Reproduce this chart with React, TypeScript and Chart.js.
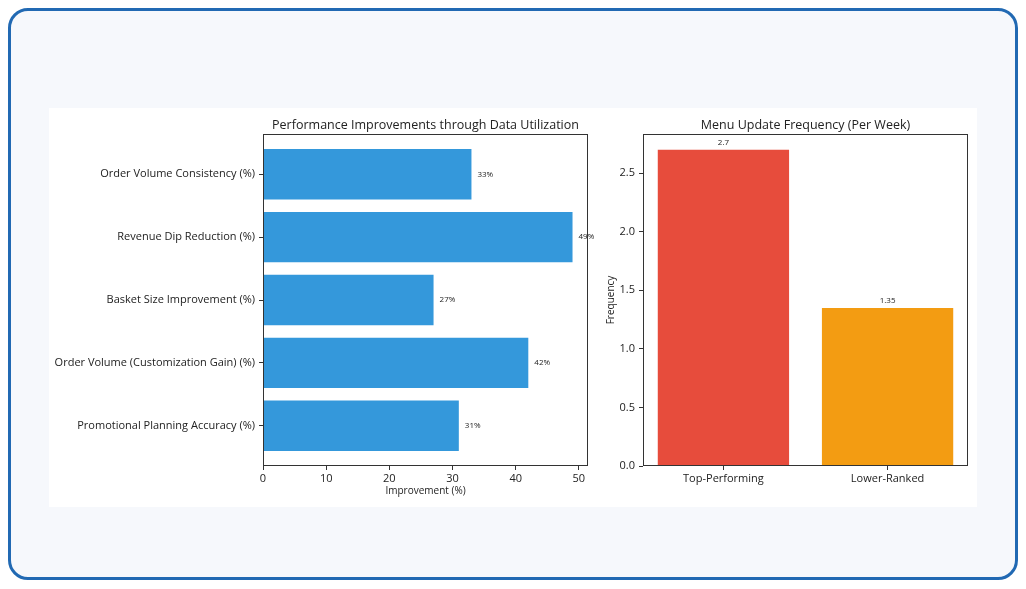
import React, { useEffect, useRef } from "react";
import { Chart, registerables } from "chart.js";

Chart.register(...registerables);

// Performance improvements (horizontal bars)
const improvementLabels: string[] = [
  "Order Volume Consistency (%)",
  "Revenue Dip Reduction (%)",
  "Basket Size Improvement (%)",
  "Order Volume (Customization Gain) (%)",
  "Promotional Planning Accuracy (%)",
];
const improvementValues: number[] = [33, 49, 27, 42, 31];
const improvementTicks: number[] = [0, 10, 20, 30, 40, 50];

// Menu update frequency (vertical bars)
const frequencyLabels: string[] = ["Top-Performing", "Lower-Ranked"];
const frequencyValues: number[] = [2.7, 1.35];
const frequencyColors: string[] = ["#e74c3c", "#f39c12"];
const frequencyTicks: number[] = [0, 0.5, 1.0, 1.5, 2.0, 2.5];

const FONT = "'Open Sans', 'DejaVu Sans', sans-serif";
const INK = "#222222";

// Frame around the plot area plus a title centred over it
const boxPlugin = {
  id: "frameBox",
  afterDraw(chart: any, _args: any, opts: any) {
    const { ctx, chartArea } = chart;
    ctx.save();
    ctx.strokeStyle = "#333333";
    ctx.lineWidth = 1;
    const l = Math.round(chartArea.left) + 0.5;
    const t = Math.round(chartArea.top) + 0.5;
    const r = Math.round(chartArea.right) - 0.5;
    const b = Math.round(chartArea.bottom) - 0.5;
    ctx.strokeRect(l, t, r - l, b - t);
    if (opts && opts.text) {
      ctx.font = `12.5px ${FONT}`;
      ctx.fillStyle = INK;
      ctx.textAlign = "center";
      ctx.textBaseline = "middle";
      ctx.fillText(opts.text, (chartArea.left + chartArea.right) / 2, chartArea.top - 9);
    }
    ctx.restore();
  },
};

const hLabelPlugin = {
  id: "hBarLabels",
  afterDatasetsDraw(chart: any) {
    const { ctx } = chart;
    const meta = chart.getDatasetMeta(0);
    ctx.save();
    ctx.font = `8px ${FONT}`;
    ctx.fillStyle = INK;
    ctx.textAlign = "left";
    ctx.textBaseline = "middle";
    meta.data.forEach((bar: any, i: number) => {
      ctx.fillText(`${improvementValues[i]}%`, bar.x + 6, bar.y);
    });
    ctx.restore();
  },
};

const vLabelPlugin = {
  id: "vBarLabels",
  afterDatasetsDraw(chart: any) {
    const { ctx } = chart;
    const meta = chart.getDatasetMeta(0);
    ctx.save();
    ctx.font = `8px ${FONT}`;
    ctx.fillStyle = INK;
    ctx.textAlign = "center";
    ctx.textBaseline = "bottom";
    meta.data.forEach((bar: any, i: number) => {
      ctx.fillText(`${frequencyValues[i]}`, bar.x, bar.y - 3);
    });
    ctx.restore();
  },
};

const tickGrid = { offset: false, drawOnChartArea: false, drawTicks: true, tickLength: 4, color: "#333" };

function ImprovementChart() {
  const ref = useRef<HTMLCanvasElement | null>(null);
  useEffect(() => {
    if (!ref.current) return;
    const chart = new Chart(ref.current, {
      type: "bar",
      data: {
        datasets: [
          {
            data: improvementValues.map((v, i) => ({ x: v, y: i })),
            backgroundColor: "#3498db",
            borderWidth: 0,
            categoryPercentage: 1,
            barPercentage: 0.8,
          },
        ],
      },
      options: {
        indexAxis: "y",
        responsive: false,
        animation: false,
        layout: { padding: { left: 0, right: 7, top: 26, bottom: 0 } },
        plugins: {
          legend: { display: false },
          tooltip: { enabled: false },
          title: { display: false },
          frameBox: { text: "Performance Improvements through Data Utilization" },
        },
        scales: {
          x: {
            type: "linear",
            min: 0,
            max: 51.45,
            offset: false,
            afterBuildTicks: (s: any) => {
              s.ticks = improvementTicks.map((v) => ({ value: v }));
            },
            afterFit: (s: any) => {
              s.height = 41;
            },
            grid: tickGrid,
            border: { display: false },
            ticks: {
              color: INK,
              padding: 2,
              maxRotation: 0,
              font: { family: FONT, size: 11 },
            },
            title: {
              display: true,
              text: "Improvement (%)",
              color: INK,
              font: { family: FONT, size: 10 },
              padding: { top: 0, bottom: 10 },
            },
          },
          y: {
            type: "linear",
            min: -0.64,
            max: 4.64,
            reverse: true,
            offset: false,
            afterBuildTicks: (s: any) => {
              s.ticks = improvementLabels.map((_, i) => ({ value: i }));
            },
            afterFit: (s: any) => {
              s.width = 214;
            },
            grid: tickGrid,
            border: { display: false },
            ticks: {
              color: INK,
              padding: 4,
              font: { family: FONT, size: 11 },
              callback: (v: any) => improvementLabels[v] ?? "",
            },
          },
        },
      },
      plugins: [boxPlugin, hLabelPlugin],
    } as any);
    return () => chart.destroy();
  }, []);
  return <canvas ref={ref} width={546} height={399} style={{ position: "absolute", left: 49, top: 108, width: 546, height: 399 }} />;
}

function FrequencyChart() {
  const ref = useRef<HTMLCanvasElement | null>(null);
  useEffect(() => {
    if (!ref.current) return;
    const chart = new Chart(ref.current, {
      type: "bar",
      data: {
        datasets: [
          {
            data: frequencyValues.map((v, i) => ({ x: i, y: v })),
            backgroundColor: frequencyColors,
            borderWidth: 0,
            categoryPercentage: 1,
            barPercentage: 0.8,
          },
        ],
      },
      options: {
        responsive: false,
        animation: false,
        layout: { padding: { left: 0, right: 9, top: 26, bottom: 0 } },
        plugins: {
          legend: { display: false },
          tooltip: { enabled: false },
          title: { display: false },
          frameBox: { text: "Menu Update Frequency (Per Week)" },
        },
        scales: {
          x: {
            type: "linear",
            min: -0.49,
            max: 1.49,
            offset: false,
            afterBuildTicks: (s: any) => {
              s.ticks = frequencyLabels.map((_, i) => ({ value: i }));
            },
            afterFit: (s: any) => {
              s.height = 41;
            },
            grid: tickGrid,
            border: { display: false },
            ticks: {
              color: INK,
              padding: 2,
              maxRotation: 0,
              autoSkip: false,
              font: { family: FONT, size: 11 },
              callback: (v: any) => frequencyLabels[v] ?? "",
            },
          },
          y: {
            type: "linear",
            min: 0,
            max: 2.835,
            afterBuildTicks: (s: any) => {
              s.ticks = frequencyTicks.map((v) => ({ value: v }));
            },
            afterFit: (s: any) => {
              s.width = 48;
            },
            grid: tickGrid,
            border: { display: false },
            ticks: {
              color: INK,
              padding: 4,
              font: { family: FONT, size: 11 },
              callback: (v: any) => Number(v).toFixed(1),
            },
            title: {
              display: true,
              text: "Frequency",
              color: INK,
              font: { family: FONT, size: 10 },
              padding: { top: 10, bottom: 0 },
            },
          },
        },
      },
      plugins: [boxPlugin, vLabelPlugin],
    } as any);
    return () => chart.destroy();
  }, []);
  return <canvas ref={ref} width={382} height={399} style={{ position: "absolute", left: 595, top: 108, width: 382, height: 399 }} />;
}

export default function App() {
  return (
    <div style={{ position: "fixed", left: 0, top: 0, width: 1026, height: 589, background: "#ffffff", overflow: "hidden" }}>
      <div
        style={{
          position: "absolute",
          left: 8,
          top: 8,
          width: 1010,
          height: 572,
          boxSizing: "border-box",
          border: "3px solid #2169b3",
          borderRadius: 20,
          background: "#f6f8fc",
        }}
      />
      <div style={{ position: "absolute", left: 49, top: 108, width: 928, height: 399, background: "#ffffff" }} />
      <ImprovementChart />
      <FrequencyChart />
    </div>
  );
}
